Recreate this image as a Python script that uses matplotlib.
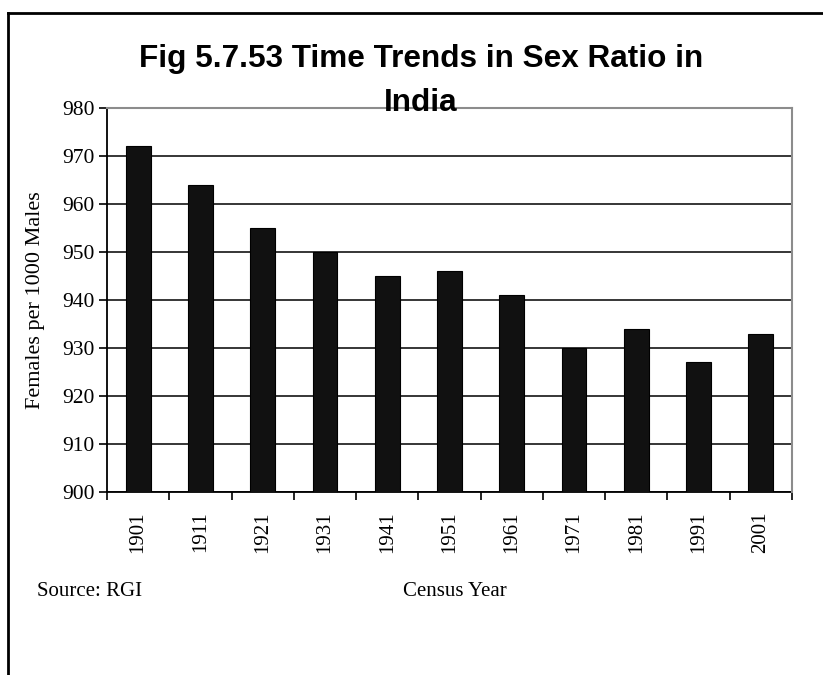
import matplotlib
matplotlib.use("Agg")
import matplotlib.pyplot as plt
from matplotlib.lines import Line2D
import numpy as np

years = ["1901", "1911", "1921", "1931", "1941", "1951", "1961", "1971", "1981", "1991", "2001"]
sex_ratio = [972, 964, 955, 950, 945, 946, 941, 930, 934, 927, 933]
y_ticks = [900, 910, 920, 930, 940, 950, 960, 970, 980]

W, H = 823, 675
fig = plt.figure(figsize=(W / 100, H / 100), dpi=100)
ax = fig.add_axes([107 / W, 1 - 492 / H, (792 - 107) / W, (492 - 108) / H])

serif = "Liberation Serif"
sans = "Liberation Sans"

x = np.arange(len(years))
ax.bar(x, np.array(sex_ratio) - 900, bottom=900, width=0.4,
       color="#111111", edgecolor="black", linewidth=0.8, zorder=3)

ax.set_xlim(-0.5, len(years) - 0.5)
ax.set_ylim(900, 980)
ax.set_yticks(y_ticks)
ax.set_yticklabels([str(v) for v in y_ticks], fontfamily=serif, fontsize=15.5)
ax.yaxis.grid(True, color="black", linewidth=1.1, zorder=1)
ax.set_axisbelow(True)

ax.set_xticks(x)
ax.set_xticklabels(years, rotation=90, fontfamily=serif, fontsize=15)
ax.set_xticks(np.arange(-0.5, len(years)), minor=True)
ax.tick_params(axis="x", which="major", length=0, pad=14)
ax.tick_params(axis="x", which="minor", length=6, width=1.2, direction="out", color="black")
ax.tick_params(axis="y", length=6, width=1.2, direction="out", pad=3)

for side in ("left", "bottom"):
    ax.spines[side].set_color("black")
    ax.spines[side].set_linewidth(1.3)
for side in ("top", "right"):
    ax.spines[side].set_color("#8c8c8c")
    ax.spines[side].set_linewidth(1.5)
    ax.spines[side].set_zorder(4)

ax.set_ylabel("Females per 1000 Males", fontfamily=serif, fontsize=16)
ax.yaxis.set_label_coords(45 / W, 1 - 300 / H, transform=fig.transFigure)

# two-line title, second line sits on the top edge of the plot
fig.text(421 / W, 1 - 67 / H, "Fig 5.7.53 Time Trends in Sex Ratio in",
         ha="center", va="baseline", fontfamily=sans, fontweight="bold",
         fontsize=22.7, zorder=5)
fig.text(421 / W, 1 - 111 / H, "India",
         ha="center", va="baseline", fontfamily=sans, fontweight="bold",
         fontsize=22.7, zorder=5)

fig.text(37 / W, 1 - 596 / H, "Source: RGI", ha="left", va="baseline",
         fontfamily=serif, fontsize=15)
fig.text(455 / W, 1 - 596 / H, "Census Year", ha="center", va="baseline",
         fontfamily=serif, fontsize=15)

# outer frame around the chart area
fig.add_artist(Line2D([8 / W, 8 / W], [0, 1 - 13 / H], transform=fig.transFigure,
                      color="black", linewidth=2))
fig.add_artist(Line2D([8 / W, 1], [1 - 13 / H, 1 - 13 / H], transform=fig.transFigure,
                      color="black", linewidth=2))

fig.savefig("out.png", dpi=100, facecolor="white")
